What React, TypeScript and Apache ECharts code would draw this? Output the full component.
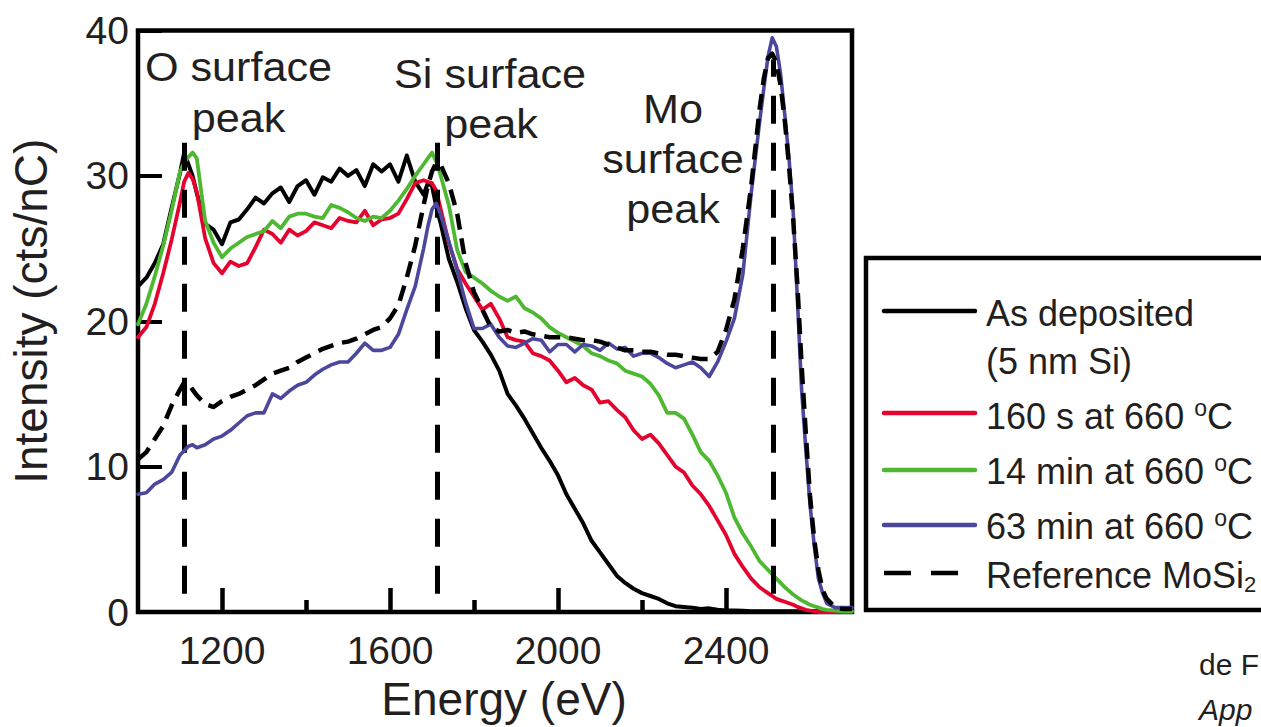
import React, { useEffect, useRef } from "react";
import * as echarts from "echarts";

// Energy grid (eV)
const energy = [
  1000, 1020, 1040, 1060, 1080, 1100, 1110, 1120, 1130, 1140,
  1160, 1180, 1200, 1220, 1240, 1260, 1280, 1300, 1320, 1340,
  1360, 1380, 1400, 1420, 1440, 1460, 1480, 1500, 1520, 1540,
  1560, 1580, 1600, 1620, 1640, 1660, 1680, 1690, 1700, 1710,
  1720, 1740, 1760, 1780, 1800, 1820, 1840, 1860, 1880, 1900,
  1920, 1940, 1960, 1980, 2000, 2020, 2040, 2060, 2080, 2100,
  2120, 2140, 2160, 2180, 2200, 2220, 2240, 2260, 2280, 2300,
  2320, 2340, 2360, 2380, 2400, 2420, 2440, 2460, 2480, 2490,
  2500, 2510, 2520, 2530, 2540, 2550, 2560, 2570, 2580, 2590,
  2600, 2610, 2620, 2630, 2640, 2660, 2680, 2700,
];

// Intensity (cts/nC)
const asDeposited = [
  22.4, 23.0, 24.0, 25.3, 27.8, 30.2, 31.6, 30.8, 30.0, 28.8,
  26.7, 26.3, 25.3, 26.8, 27.0, 27.7, 28.5, 28.1, 28.8, 29.2,
  28.2, 29.3, 29.7, 28.7, 29.9, 29.6, 30.5, 30.0, 30.4, 29.3,
  30.8, 30.3, 30.8, 29.6, 31.4, 29.6, 28.7, 29.5, 29.3, 27.9,
  26.8, 24.3, 22.7, 20.9, 19.4, 18.6, 17.7, 16.6, 15.0, 14.2,
  13.3, 12.3, 11.3, 10.4, 9.4, 8.1, 7.1, 6.1, 4.9, 4.1,
  3.3, 2.5, 2.0, 1.6, 1.3, 1.1, 0.9, 0.6, 0.4, 0.35,
  0.3, 0.2, 0.25, 0.15, 0.1, 0.1, 0.08, 0.05, 0.05, 0.05,
  0.05, 0.05, 0.05, 0.05, 0.05, 0.05, 0.05, 0.05, 0.05, 0.05,
  0.05, 0.05, 0.05, 0.05, 0.05, 0.05, 0.05, 0.05,
];

const anneal160s = [
  18.9, 19.6, 21.2, 23.3, 25.6, 28.2, 29.6, 30.2, 29.8, 28.9,
  25.7, 24.0, 23.3, 24.1, 23.8, 24.0, 25.1, 26.3, 26.0, 25.4,
  26.3, 25.9, 26.2, 26.8, 26.6, 26.4, 27.1, 26.9, 26.8, 27.6,
  26.6, 27.0, 27.1, 27.4, 28.4, 29.5, 29.7, 29.6, 29.5, 29.0,
  27.8, 25.4, 23.6, 22.6, 21.7, 20.8, 21.2, 20.2, 18.9, 18.7,
  18.6, 17.8, 17.6, 17.3, 16.6, 15.8, 16.1, 15.6, 15.3, 14.4,
  14.5, 13.9, 13.4, 12.5, 11.9, 12.2, 11.6, 10.8, 10.0, 9.6,
  8.7, 8.1, 7.3, 6.3, 5.3, 4.0, 3.1, 2.3, 1.7, 1.5,
  1.3, 1.1, 0.9, 0.8, 0.7, 0.6, 0.5, 0.35, 0.25, 0.15,
  0.1, 0.05, 0, 0, 0, 0, 0, 0,
];

const anneal14min = [
  19.8, 21.2, 23.1, 25.2, 27.6, 30.3, 30.9, 31.3, 31.6, 31.2,
  26.9, 25.4, 24.4, 25.0, 25.4, 25.8, 26.0, 26.2, 26.9, 26.4,
  27.2, 27.4, 27.4, 27.2, 27.1, 28.0, 27.8, 27.5, 27.1, 26.9,
  27.2, 27.1, 27.6, 28.3, 29.1, 30.0, 30.8, 31.2, 31.6, 31.0,
  30.1, 28.0, 24.9, 23.4, 23.0, 22.6, 22.1, 21.7, 21.4, 21.7,
  20.9, 20.6, 20.2, 19.6, 19.2, 18.9, 18.6, 18.3, 17.8, 17.6,
  17.3, 17.1, 16.6, 16.4, 16.2, 15.7, 14.9, 13.7, 13.7, 13.3,
  12.2, 11.0, 10.4, 9.4, 8.2, 6.5, 5.4, 4.5, 3.5, 3.2,
  2.9, 2.6, 2.3, 2.0, 1.7, 1.45, 1.2, 1.0, 0.8, 0.65,
  0.5, 0.4, 0.3, 0.2, 0.15, 0.1, 0.05, 0.05,
];

const anneal63min = [
  8.1, 8.2, 8.8, 9.1, 9.6, 10.8, 11.1, 11.4, 11.5, 11.3,
  11.5, 11.9, 12.1, 12.5, 13.0, 13.5, 13.7, 13.7, 15.0, 14.7,
  15.2, 15.6, 15.8, 16.3, 16.7, 17.0, 17.2, 17.2, 17.8, 18.5,
  18.0, 18.0, 18.2, 19.1, 20.8, 22.4, 25.0, 26.5, 27.7, 28.1,
  27.4, 25.5, 23.5, 21.3, 19.5, 19.5, 19.8, 18.9, 18.3, 18.2,
  18.5, 18.8, 18.7, 17.9, 18.4, 18.4, 17.9, 18.4, 18.3, 18.0,
  18.5, 18.1, 18.2, 17.6, 17.8, 17.8, 17.5, 17.1, 16.8, 17.0,
  17.2, 16.8, 16.2, 17.2, 18.6, 20.2, 23.2, 28.8, 33.7, 36.0,
  38.2, 39.5, 38.9, 37.0, 34.2, 31.2, 27.5, 21.5, 15.3, 11.2,
  7.4, 4.6, 2.3, 1.3, 0.6, 0.3, 0.3, 0.3,
];

const referenceMoSi2 = [
  10.5, 11.0, 11.9, 12.8, 14.2, 15.3, 15.8, 15.7, 15.3, 14.9,
  14.3, 14.1, 14.5, 14.8, 15.0, 15.3, 15.6, 16.0, 16.4, 16.6,
  16.8, 17.2, 17.5, 17.8, 18.1, 18.3, 18.5, 18.6, 18.8, 19.1,
  19.4, 19.6, 20.2, 21.1, 23.0, 25.2, 28.0, 29.3, 30.3, 30.9,
  30.8, 29.5, 27.4, 24.0, 22.0, 20.8, 19.6, 19.3, 19.4, 19.2,
  19.3, 19.1, 19.0, 18.9, 18.9, 18.9, 18.8, 18.7, 18.7, 18.6,
  18.4, 18.2, 18.0, 18.0, 17.9, 17.9, 17.8, 17.7, 17.7, 17.6,
  17.5, 17.4, 17.4, 17.9, 19.4, 21.5, 25.0, 29.3, 34.6, 36.7,
  38.1, 38.4, 37.8, 36.2, 33.8, 30.7, 27.0, 22.5, 17.0, 12.3,
  8.0, 5.0, 2.9, 1.5, 0.9, 0.3, 0.2, 0.2,
];

const xTickLabels = [1200, 1600, 2000, 2400];
const xMinorTicks = [1400, 1800, 2200];
const peakEnergies = [1110, 1712, 2512];
const peakTops = [33.1, 33.1, 38.0];
const peakBottom = 1.25;

const FONT = '"Liberation Sans", Arial, Helvetica, sans-serif';
const INK = "#231f20";
const RED = "#e4032e";
const GREEN = "#4fb833";
const BLUE = "#4b479d";

export default function App() {
  const ref = useRef<HTMLDivElement>(null);

  useEffect(() => {
    const chart = echarts.init(ref.current!, null, { renderer: "svg" });
    const pairs = (v: number[]) => energy.map((e, i) => [e, v[i]]);

    const solid = [
      { name: "As deposited (5 nm Si)", data: asDeposited, color: "#000000", width: 4 },
      { name: "160 s at 660 °C", data: anneal160s, color: RED, width: 3.8 },
      { name: "14 min at 660 °C", data: anneal14min, color: GREEN, width: 3.8 },
      { name: "63 min at 660 °C", data: anneal63min, color: BLUE, width: 3.6 },
    ];

    const series: any[] = solid.map((s, i) => ({
      type: "line",
      name: s.name,
      data: pairs(s.data),
      showSymbol: false,
      symbol: "none",
      silent: true,
      z: 2 + i,
      lineStyle: { color: s.color, width: s.width, join: "round", cap: "round" },
      emphasis: { disabled: true },
    }));

    series.push({
      type: "line",
      name: "Reference MoSi2",
      data: pairs(referenceMoSi2),
      showSymbol: false,
      symbol: "none",
      silent: true,
      z: 7,
      lineStyle: { color: "#000", width: 4.5, type: [16, 9], join: "round" },
      emphasis: { disabled: true },
      markLine: {
        silent: true,
        symbol: ["none", "none"],
        label: { show: false },
        emphasis: { disabled: true },
        lineStyle: { color: "#000", width: 5, type: [28, 19] },
        data: peakEnergies.map((e, i) => [
          { coord: [e, peakBottom] },
          { coord: [e, peakTops[i]] },
        ]),
      },
    });

    const annotations = [
      { t: "O surface", x: 238.5, base: 81 },
      { t: "peak", x: 238.5, base: 132 },
      { t: "Si surface", x: 490, base: 88 },
      { t: "peak", x: 491, base: 138 },
      { t: "Mo", x: 673, base: 123 },
      { t: "surface", x: 673, base: 173 },
      { t: "peak", x: 673, base: 223 },
    ];

    const graphics: any[] = annotations.map((a) => ({
      type: "text",
      x: a.x,
      y: a.base - 14,
      scaleX: 1.08,
      z: 20,
      silent: true,
      style: {
        text: a.t,
        fontSize: 40,
        fontFamily: FONT,
        fill: INK,
        align: "center",
        verticalAlign: "middle",
        textAlign: "center",
        textVerticalAlign: "middle",
      },
    }));

    // Legend box
    graphics.push({
      type: "rect",
      z: 30,
      silent: true,
      shape: { x: 866, y: 258, width: 470, height: 352 },
      style: { fill: "#fff", stroke: "#000", lineWidth: 4.5 },
    });
    const legendLines = [
      { y: 311, color: "#000", dash: null as any },
      { y: 413, color: RED, dash: null },
      { y: 470, color: GREEN, dash: null },
      { y: 525, color: BLUE, dash: null },
      { y: 573, color: "#000", dash: [27, 20] },
    ];
    legendLines.forEach((l) => {
      graphics.push({
        type: "line",
        z: 31,
        silent: true,
        shape: { x1: 884, y1: l.y, x2: l.dash ? 958 : 975, y2: l.y },
        style: {
          stroke: l.color,
          lineWidth: 4.5,
          lineCap: l.dash ? "butt" : "round",
          lineDash: l.dash || undefined,
        },
      });
    });
    const rich = {
      n: { fontSize: 36, fontFamily: FONT, fill: INK, color: INK, lineHeight: 40 },
      s: { fontSize: 23, fontFamily: FONT, fill: INK, color: INK, lineHeight: 20, verticalAlign: "top" },
      b: { fontSize: 22, fontFamily: FONT, fill: INK, color: INK, lineHeight: 22, verticalAlign: "bottom" },
    };
    const legendTexts = [
      { t: "{n|As deposited}", y: 313 },
      { t: "{n|(5 nm Si)}", y: 361 },
      { t: "{n|160 s at 660 }{s|o}{n|C}", y: 416 },
      { t: "{n|14 min at 660 }{s|o}{n|C}", y: 471 },
      { t: "{n|63 min at 660 }{s|o}{n|C}", y: 526 },
      { t: "{n|Reference MoSi}{b|2}", y: 575 },
    ];
    legendTexts.forEach((l) => {
      graphics.push({
        type: "text",
        z: 32,
        silent: true,
        x: 986,
        y: l.y,
        style: {
          text: l.t,
          rich,
          fontSize: 36,
          fontFamily: FONT,
          fill: INK,
          align: "left",
          verticalAlign: "middle",
          textAlign: "left",
          textVerticalAlign: "middle",
        },
      });
    });

    // Source credit: only the part visible in the original figure
    graphics.push({
      type: "text",
      z: 32,
      silent: true,
      x: 1199,
      y: 664,
      style: {
        text: "de F",
        fontSize: 30,
        fontFamily: FONT,
        fill: INK,
        align: "left",
        verticalAlign: "middle",
        textAlign: "left",
        textVerticalAlign: "middle",
      },
    });
    graphics.push({
      type: "text",
      z: 32,
      silent: true,
      x: 1199,
      y: 709,
      style: {
        text: "App",
        fontSize: 30,
        fontStyle: "italic",
        fontFamily: FONT,
        fill: INK,
        align: "left",
        verticalAlign: "middle",
        textAlign: "left",
        textVerticalAlign: "middle",
      },
    });

    const option: any = {
      animation: false,
      backgroundColor: "#ffffff",
      grid: {
        left: 138,
        top: 30.5,
        width: 714,
        height: 583,
        show: true,
        borderColor: "#000",
        borderWidth: 4.5,
        backgroundColor: "transparent",
        containLabel: false,
      },
      xAxis: [
        {
          type: "value",
          min: 1000,
          max: 2700,
          position: "bottom",
          axisLine: { show: false },
          splitLine: { show: false },
          axisTick: {
            show: true,
            inside: true,
            length: 24,
            customValues: xTickLabels,
            lineStyle: { color: "#000", width: 4.5 },
          },
          axisLabel: {
            customValues: xTickLabels,
            formatter: (v: number) => String(v),
            margin: 19,
            color: INK,
            fontSize: 39,
            fontFamily: FONT,
          },
          name: "Energy (eV)",
          nameLocation: "middle",
          nameGap: 64,
          nameTextStyle: { fontSize: 46, color: INK, fontFamily: FONT, padding: [0, 0, 0, 18] },
        },
        {
          type: "value",
          min: 1000,
          max: 2700,
          position: "bottom",
          axisLine: { show: false },
          splitLine: { show: false },
          axisLabel: { show: false },
          axisTick: {
            show: true,
            inside: true,
            length: 12,
            customValues: xMinorTicks,
            lineStyle: { color: "#000", width: 4.5 },
          },
        },
      ],
      yAxis: {
        type: "value",
        min: 0,
        max: 40,
        interval: 10,
        axisLine: { show: false },
        splitLine: { show: false },
        axisTick: { show: true, inside: true, length: 24, lineStyle: { color: "#000", width: 4 } },
        axisLabel: { margin: 9, color: INK, fontSize: 39, fontFamily: FONT },
        name: "Intensity (cts/nC)",
        nameLocation: "middle",
        nameGap: 84,
        nameRotate: 90,
        nameTextStyle: { fontSize: 46, color: INK, fontFamily: FONT, padding: [0, 0, 0, 20] },
      },
      series,
      graphic: graphics,
    };

    chart.setOption(option);
    return () => chart.dispose();
  }, []);

  return (
    <div
      ref={ref}
      style={{ position: "absolute", left: 0, top: 0, width: 1261, height: 727, background: "#fff" }}
    />
  );
}
